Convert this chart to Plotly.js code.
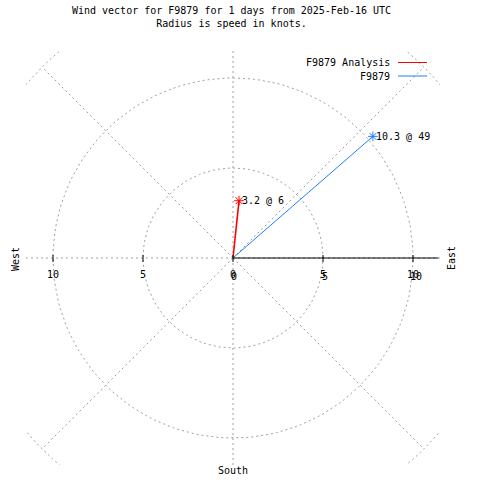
<!DOCTYPE html>
<html>
<head>
<meta charset="utf-8">
<script src="https://cdn.plot.ly/plotly-3.0.1.min.js"></script>
<style>html,body{margin:0;padding:0;background:#fff;}#chart{width:480px;height:480px;}</style>
</head>
<body>
<div id="chart"></div>
<script>
// ---- data ----
const seriesNames = ["F9879 Analysis", "F9879"];
const speeds = [3.2, 10.3];          // knots
const directions = [6, 49];          // degrees, clockwise from north
const titleLines = ["Wind vector for F9879 for 1 days from 2025-Feb-16 UTC", "Radius is speed in knots."];
const gridRadii = [5, 10, 15];
const gridAngles = [0, 45, 90, 135, 180, 225, 270, 315];
const xTickVals = [-10, -5, 0, 5, 10];
const xTickText = ["10", "5", "0", "5", "10"];
const rTickVals = [0, 5, 10];
const rTickText = ["0", "5", "10"];
const sideLabels = ["West", "East", "South"];

// ---- styles ----
const seriesColors = ["#ff0000", "#1e7fff"];
const seriesWidths = [1.6, 1];
const gridColor = "#a0a0a0";
const FONT = "DejaVu Sans Mono, Liberation Mono, monospace";
const W = 480, H = 480;
const M = {l: 26, r: 40, t: 51, b: 15};
const PW = W - M.l - M.r, PH = H - M.t - M.b;
const px = v => (v - M.l) / PW;            // pixel x -> paper
const py = v => 1 - (v - M.t) / PH;        // pixel y -> paper

const traces = [];
// grid circles
gridRadii.forEach(r => {
  const xs = [], ys = [];
  for (let a = 0; a <= 360; a += 2) { xs.push(r * Math.sin(a * Math.PI / 180)); ys.push(r * Math.cos(a * Math.PI / 180)); }
  traces.push({x: xs, y: ys, mode: "lines", hoverinfo: "skip", showlegend: false,
    line: {color: gridColor, width: 1, dash: "2px,3px"}});
});
// radial grid lines
const rMax = gridRadii[gridRadii.length - 1];
gridAngles.forEach(a => {
  traces.push({x: [0, rMax * Math.sin(a * Math.PI / 180)], y: [0, rMax * Math.cos(a * Math.PI / 180)],
    mode: "lines", hoverinfo: "skip", showlegend: false,
    line: {color: gridColor, width: 1, dash: "2px,3px"}});
});
// vectors
const vx = speeds.map((s, i) => s * Math.sin(directions[i] * Math.PI / 180));
const vy = speeds.map((s, i) => s * Math.cos(directions[i] * Math.PI / 180));
seriesNames.forEach((n, i) => {
  traces.push({x: [0, vx[i]], y: [0, vy[i]], mode: "lines", name: n, showlegend: false,
    line: {color: seriesColors[i], width: seriesWidths[i]}});
  traces.push({x: [vx[i]], y: [vy[i]], mode: "markers", showlegend: false, hoverinfo: "skip",
    marker: {symbol: "asterisk-open", size: 8, color: seriesColors[i], line: {color: seriesColors[i], width: 1}}});
});

const shapes = [];
// east axis line
shapes.push({type: "line", xref: "x", yref: "y", x0: 0, x1: 11.4, y0: 0, y1: 0, line: {color: "#000", width: 1}});
xTickVals.forEach(v => shapes.push({type: "line", xref: "x", yref: "y", ysizemode: "pixel", yanchor: 0,
  x0: v, x1: v, y0: -4, y1: 3, line: {color: "#000", width: 1}}));
// legend lines
seriesNames.forEach((n, i) => shapes.push({type: "line", xref: "paper", yref: "paper",
  x0: px(398), x1: px(427), y0: py(62.5 + 13.5 * i), y1: py(62.5 + 13.5 * i),
  line: {color: seriesColors[i], width: 1}}));

const font = {family: FONT, size: 10, color: "#000"};
const annotations = [];
xTickVals.forEach((v, i) => annotations.push({xref: "x", yref: "y", x: v, y: 0, yshift: -16,
  text: xTickText[i], showarrow: false, font, xanchor: "center", yanchor: "middle"}));
rTickVals.forEach((v, i) => annotations.push({xref: "x", yref: "y", x: v, y: 0, yshift: -18, xshift: 1 + i,
  text: rTickText[i], showarrow: false, font, xanchor: "center", yanchor: "middle"}));
// vector labels
seriesNames.forEach((n, i) => annotations.push({xref: "x", yref: "y", x: vx[i], y: vy[i], xshift: 1,
  text: speeds[i] + " @ " + directions[i], showarrow: false, font, xanchor: "left", yanchor: "middle"}));
// legend texts
seriesNames.forEach((n, i) => annotations.push({xref: "paper", yref: "paper", x: px(392), y: py(62.5 + 13.5 * i),
  text: n, showarrow: false, font, xanchor: "right", yanchor: "middle"}));
// side labels
annotations.push({xref: "paper", yref: "paper", x: px(15), y: py(259), text: sideLabels[0], textangle: -90,
  showarrow: false, font, xanchor: "center", yanchor: "middle"});
annotations.push({xref: "paper", yref: "paper", x: px(451), y: py(258), text: sideLabels[1], textangle: -90,
  showarrow: false, font, xanchor: "center", yanchor: "middle"});
annotations.push({xref: "paper", yref: "paper", x: px(233), y: py(470.5), text: sideLabels[2],
  showarrow: false, font, xanchor: "center", yanchor: "middle"});

const layout = {
  width: W, height: H, margin: M, paper_bgcolor: "#fff", plot_bgcolor: "#fff",
  title: {text: titleLines.join("<br>"), font: {family: FONT, size: 10, color: "#000"},
    x: 231.5 / W, xref: "container", xanchor: "center", y: 1 - 13.5 / H, yref: "container", yanchor: "top"},
  xaxis: {range: [-11.5, 11.5], visible: false, fixedrange: true},
  yaxis: {range: [-11.5, 11.5], visible: false, fixedrange: true},
  showlegend: false, shapes, annotations
};
Plotly.newPlot("chart", traces, layout, {staticPlot: true, displayModeBar: false});
</script>
</body>
</html>
